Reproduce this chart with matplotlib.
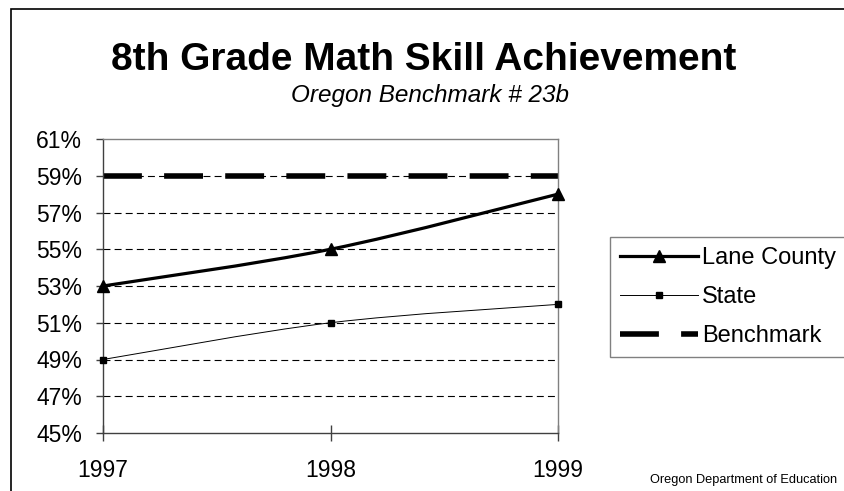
import matplotlib
matplotlib.use("Agg")
import matplotlib.pyplot as plt
from matplotlib.path import Path
from matplotlib.patches import PathPatch, Rectangle
from matplotlib.lines import Line2D
from matplotlib.ticker import FuncFormatter

plt.rcParams["font.family"] = ["Liberation Sans", "DejaVu Sans"]
plt.rcParams["lines.scale_dashes"] = False

years = [1997, 1998, 1999]
lane_county = [53, 55, 58]
state = [49, 51, 52]
benchmark = 59
y_ticks = [45, 47, 49, 51, 53, 55, 57, 59, 61]


def smooth_path(xs, ys):
    # Excel-style smoothed line: cubic Bezier through the data points
    pts = list(zip(xs, ys))
    verts = [pts[0]]
    codes = [Path.MOVETO]
    n = len(pts)
    for i in range(n - 1):
        p0 = pts[max(i - 1, 0)]
        p1 = pts[i]
        p2 = pts[i + 1]
        p3 = pts[min(i + 2, n - 1)]
        c1 = (p1[0] + (p2[0] - p0[0]) / 6, p1[1] + (p2[1] - p0[1]) / 6)
        c2 = (p2[0] - (p3[0] - p1[0]) / 6, p2[1] - (p3[1] - p1[1]) / 6)
        verts += [c1, c2, p2]
        codes += [Path.CURVE4] * 3
    return Path(verts, codes)


fig = plt.figure(figsize=(8.45, 4.91), dpi=100)
fig.patches.append(Rectangle((11 / 845, -0.1), 1.2, 1 - 9 / 491 + 0.1,
                             transform=fig.transFigure, fill=False,
                             edgecolor="black", linewidth=1.2))

ax = fig.add_axes([103 / 845, 58 / 491, 455 / 845, 294 / 491])
ax.set_xlim(1997, 1999)
ax.set_ylim(45, 61)

ax.set_yticks(y_ticks)
ax.yaxis.set_major_formatter(FuncFormatter(lambda v, p: f"{v:.0f}%"))
ax.set_xticks(years)
ax.set_xticklabels([str(y) for y in years])

for v in y_ticks[1:-1]:
    ax.axhline(v, color="black", linewidth=0.8, dashes=(5, 3), zorder=1)

ax.axhline(benchmark, color="black", linewidth=4, dashes=(28, 16), zorder=2)

ax.add_patch(PathPatch(smooth_path(years, lane_county), fill=False,
                       edgecolor="black", linewidth=2.3, zorder=3))
ax.plot(years, lane_county, linestyle="none", marker="^", markersize=9,
        color="black", zorder=4, clip_on=False)

ax.add_patch(PathPatch(smooth_path(years, state), fill=False,
                       edgecolor="black", linewidth=0.7, zorder=3))
ax.plot(years, state, linestyle="none", marker="s", markersize=5,
        color="black", zorder=4, clip_on=False)

for side in ["top", "right"]:
    ax.spines[side].set_color("#808080")
    ax.spines[side].set_linewidth(1)
for side in ["left", "bottom"]:
    ax.spines[side].set_color("#404040")
    ax.spines[side].set_linewidth(1)

ax.tick_params(axis="y", direction="out", length=5, width=1, pad=10,
               labelsize=16.5, color="#404040")
ax.tick_params(axis="x", direction="inout", length=12, width=1, pad=13,
               labelsize=16.5, color="#404040")

fig.text(424 / 845, 1 - 70 / 491, "8th Grade Math Skill Achievement",
         ha="center", va="baseline", fontsize=28, fontweight="bold")
fig.text(430 / 845, 1 - 102 / 491, "Oregon Benchmark # 23b",
         ha="center", va="baseline", fontsize=17.5, style="italic")
fig.text(650 / 845, 1 - 483 / 491, "Oregon Department of Education",
         ha="left", va="baseline", fontsize=9.2)

handles = [
    Line2D([], [], color="black", linewidth=2.3, marker="^", markersize=9),
    Line2D([], [], color="black", linewidth=0.7, marker="s", markersize=5),
    Line2D([], [], color="black", linewidth=4, dashes=(28, 16)),
]
leg = fig.legend(handles, ["Lane County", "State", "Benchmark"],
                 loc="upper left", bbox_to_anchor=(610 / 845, 1 - 237 / 491),
                 fontsize=17, frameon=True, fancybox=False, handlelength=3.3,
                 handletextpad=0.18, labelspacing=0.73, borderpad=0.42,
                 borderaxespad=0, markerfirst=True)
leg.get_frame().set_edgecolor("#606060")
leg.get_frame().set_linewidth(1)

fig.savefig("out.png", dpi=100)
